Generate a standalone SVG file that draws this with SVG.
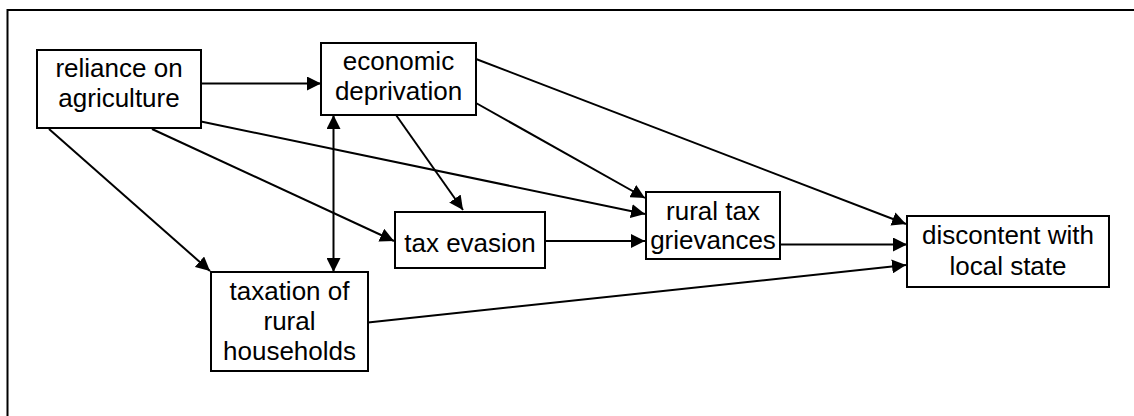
<svg xmlns="http://www.w3.org/2000/svg" width="1134" height="416" viewBox="0 0 1134 416">
<defs>
<style>
.box{fill:#fff;stroke:#000;stroke-width:2}
.lbl{font-family:"Liberation Sans",Arial,sans-serif;font-size:26px;fill:#000;text-anchor:middle}
.edge{stroke:#000;stroke-width:2;fill:none;marker-end:url(#ah)}
</style>
<marker id="ah" viewBox="0 0 14 14" refX="14" refY="7" markerWidth="14" markerHeight="14" markerUnits="userSpaceOnUse" orient="auto-start-reverse">
<path d="M0,0 L14,7 L0,14 Z" fill="#000"/>
</marker>
</defs>
<rect width="1134" height="416" fill="#fff"/>
<path d="M7.5,416 V10 H1134" fill="none" stroke="#000" stroke-width="2"/>
<g id="connectors">
<line class="edge" x1="201" y1="83.5" x2="321" y2="83.5"/>
<line class="edge" x1="333.5" y1="115" x2="333.5" y2="272" style="marker-start:url(#ah)"/>
<line class="edge" x1="49" y1="129" x2="210" y2="271"/>
<line class="edge" x1="152" y1="129" x2="394" y2="241"/>
<line class="edge" x1="201" y1="121.5" x2="645" y2="214"/>
<line class="edge" x1="396" y1="115" x2="463" y2="210"/>
<line class="edge" x1="476" y1="103" x2="645" y2="198"/>
<line class="edge" x1="476" y1="59" x2="906" y2="224"/>
<line class="edge" x1="545" y1="241" x2="645" y2="241"/>
<line class="edge" x1="780" y1="244.5" x2="907" y2="244.5"/>
<line class="edge" x1="368" y1="322.5" x2="906" y2="265"/>
</g>
<g id="reliance">
<rect class="box" x="37" y="50" width="164" height="78"/>
<text class="lbl" x="119" y="77">reliance on</text>
<text class="lbl" x="119" y="107">agriculture</text>
</g>
<g id="economic">
<rect class="box" x="321" y="43" width="155" height="72"/>
<text class="lbl" x="398.5" y="70">economic</text>
<text class="lbl" x="398.5" y="100">deprivation</text>
</g>
<g id="taxevasion">
<rect class="box" x="395" y="212" width="150" height="56"/>
<text class="lbl" x="470" y="251.5">tax evasion</text>
</g>
<g id="taxation">
<rect class="box" x="211" y="272" width="157" height="99"/>
<text class="lbl" x="289.5" y="299.5">taxation of</text>
<text class="lbl" x="289.5" y="330">rural</text>
<text class="lbl" x="289.5" y="360">households</text>
</g>
<g id="grievances">
<rect class="box" x="646" y="192" width="134" height="67"/>
<text class="lbl" x="713" y="220">rural tax</text>
<text class="lbl" x="713" y="249">grievances</text>
</g>
<g id="discontent">
<rect class="box" x="907" y="216" width="202" height="71"/>
<text class="lbl" x="1008" y="243.5">discontent with</text>
<text class="lbl" x="1008" y="274.5">local state</text>
</g>
</svg>
